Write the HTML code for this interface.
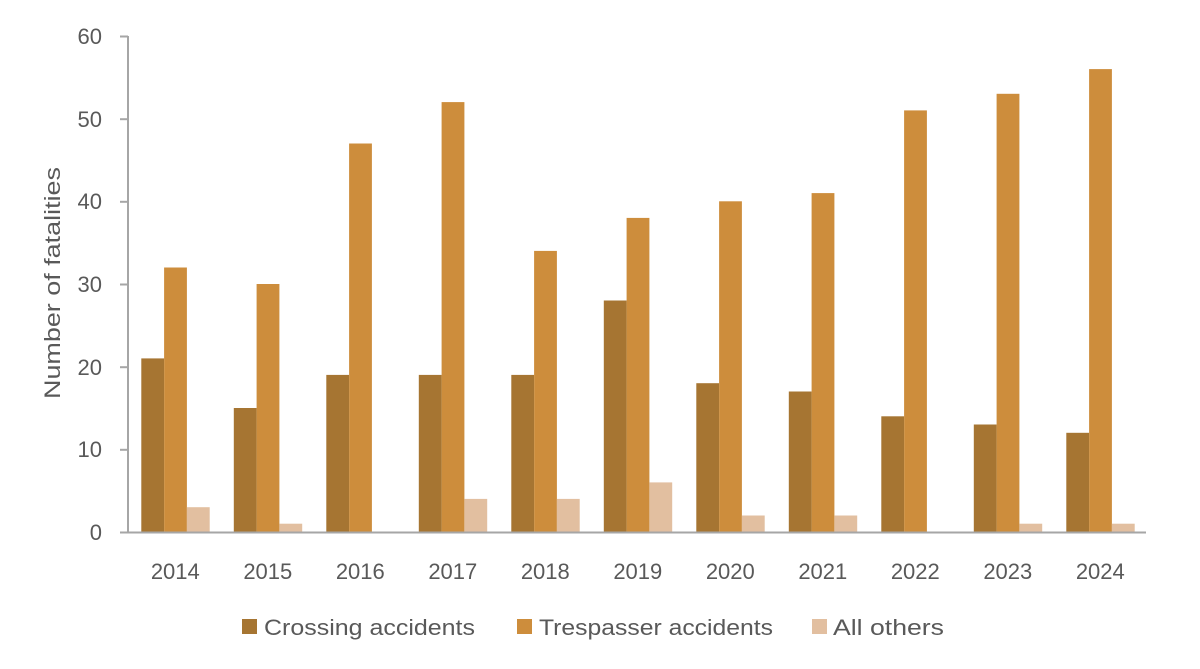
<!DOCTYPE html>
<html><head><meta charset="utf-8"><style>
html,body{margin:0;padding:0;background:#fff;}
svg{display:block;font-family:"Liberation Sans",sans-serif;}
</style></head><body>
<svg width="1200" height="669" viewBox="0 0 1200 669" xmlns="http://www.w3.org/2000/svg">
<g fill="#A67532">
<rect x="141.3" y="358.4" width="22.8" height="173.6"/>
<rect x="233.8" y="408" width="22.8" height="124"/>
<rect x="326.3" y="374.9" width="22.8" height="157.1"/>
<rect x="418.8" y="374.9" width="22.8" height="157.1"/>
<rect x="511.3" y="374.9" width="22.8" height="157.1"/>
<rect x="603.8" y="300.5" width="22.8" height="231.5"/>
<rect x="696.3" y="383.2" width="22.8" height="148.8"/>
<rect x="788.8" y="391.5" width="22.8" height="140.5"/>
<rect x="881.3" y="416.3" width="22.8" height="115.7"/>
<rect x="973.8" y="424.5" width="22.8" height="107.5"/>
<rect x="1066.3" y="432.8" width="22.8" height="99.2"/>
</g>
<g fill="#CD8D3C">
<rect x="164.1" y="267.5" width="22.8" height="264.5"/>
<rect x="256.6" y="284" width="22.8" height="248"/>
<rect x="349.1" y="143.5" width="22.8" height="388.5"/>
<rect x="441.6" y="102.1" width="22.8" height="429.9"/>
<rect x="534.1" y="250.9" width="22.8" height="281.1"/>
<rect x="626.6" y="217.9" width="22.8" height="314.1"/>
<rect x="719.1" y="201.3" width="22.8" height="330.7"/>
<rect x="811.6" y="193.1" width="22.8" height="338.9"/>
<rect x="904.1" y="110.4" width="22.8" height="421.6"/>
<rect x="996.6" y="93.8" width="22.8" height="438.2"/>
<rect x="1089.1" y="69.1" width="22.8" height="462.9"/>
</g>
<g fill="#E2BFA0">
<rect x="186.9" y="507.2" width="22.8" height="24.8"/>
<rect x="279.4" y="523.7" width="22.8" height="8.3"/>
<rect x="464.4" y="498.9" width="22.8" height="33.1"/>
<rect x="556.9" y="498.9" width="22.8" height="33.1"/>
<rect x="649.4" y="482.4" width="22.8" height="49.6"/>
<rect x="741.9" y="515.5" width="22.8" height="16.5"/>
<rect x="834.4" y="515.5" width="22.8" height="16.5"/>
<rect x="1019.4" y="523.7" width="22.8" height="8.3"/>
<rect x="1111.9" y="523.7" width="22.8" height="8.3"/>
</g>
<g stroke="#A6A6A6" stroke-width="2" fill="none">
<line x1="128" y1="36" x2="128" y2="533"/>
<line x1="120" y1="532.5" x2="1146" y2="532.5"/>
<line x1="120" y1="36.5" x2="128" y2="36.5"/>
<line x1="120" y1="119.2" x2="128" y2="119.2"/>
<line x1="120" y1="201.8" x2="128" y2="201.8"/>
<line x1="120" y1="284.5" x2="128" y2="284.5"/>
<line x1="120" y1="367.2" x2="128" y2="367.2"/>
<line x1="120" y1="449.8" x2="128" y2="449.8"/>
</g>
<g fill="#595959" font-size="22" text-anchor="end">
<text x="102" y="44">60</text>
<text x="102" y="127">50</text>
<text x="102" y="209">40</text>
<text x="102" y="292">30</text>
<text x="102" y="375">20</text>
<text x="102" y="457">10</text>
<text x="102" y="540">0</text>
</g>
<g fill="#595959" font-size="22" text-anchor="middle">
<text x="175.3" y="579">2014</text>
<text x="267.8" y="579">2015</text>
<text x="360.3" y="579">2016</text>
<text x="452.8" y="579">2017</text>
<text x="545.3" y="579">2018</text>
<text x="637.8" y="579">2019</text>
<text x="730.3" y="579">2020</text>
<text x="822.8" y="579">2021</text>
<text x="915.3" y="579">2022</text>
<text x="1007.8" y="579">2023</text>
<text x="1100.3" y="579">2024</text>
</g>
<text transform="translate(60,283) rotate(-90)" fill="#595959" font-size="22" text-anchor="middle" textLength="232" lengthAdjust="spacingAndGlyphs">Number of fatalities</text>
<rect x="242" y="619" width="15" height="15" fill="#A67532"/>
<text x="264" y="635" fill="#595959" font-size="22" textLength="211" lengthAdjust="spacingAndGlyphs">Crossing accidents</text>
<rect x="517" y="619" width="15" height="15" fill="#CD8D3C"/>
<text x="539" y="635" fill="#595959" font-size="22" textLength="234" lengthAdjust="spacingAndGlyphs">Trespasser accidents</text>
<rect x="812" y="619" width="15" height="15" fill="#E2BFA0"/>
<text x="833" y="635" fill="#595959" font-size="22" textLength="111" lengthAdjust="spacingAndGlyphs">All others</text>
</svg>
</body></html>
